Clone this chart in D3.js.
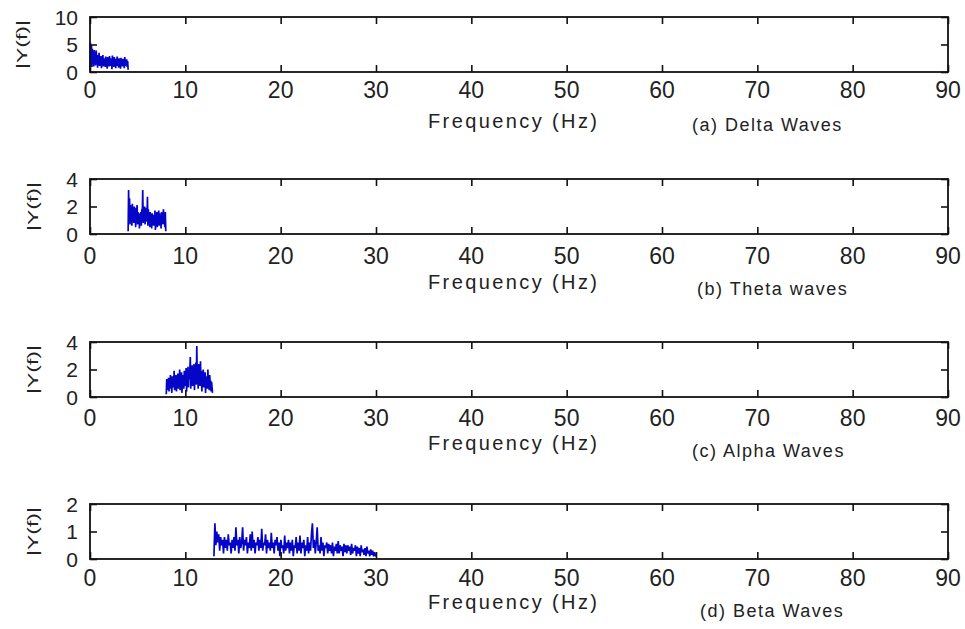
<!DOCTYPE html>
<html>
<head>
<meta charset="utf-8">
<script src="https://cdn.jsdelivr.net/npm/d3@7"></script>
<style>
  body { margin: 0; background: #fff; }
  svg { display: block; font-family: "Liberation Sans", Arial, sans-serif; }
</style>
</head>
<body>
<svg id="chart" width="965" height="629"></svg>
<script>
(function() {

// x axis (Hz), shared by all four panels
const xTicks = [0, 10, 20, 30, 40, 50, 60, 70, 80, 90];

// one entry per panel
const captions = ['(a) Delta Waves', '(b) Theta waves', '(c) Alpha Waves', '(d) Beta Waves'];
const yMaxes = [10, 4, 4, 2];
const yTicks = [[0, 5, 10], [0, 2, 4], [0, 2, 4], [0, 1, 2]];
const bandStart = [0, 4, 8, 13];     // first frequency of each trace
const bandEnd = [4, 7.95, 12.85, 30.05];

// |Y(f)| samples, evenly spaced between bandStart and bandEnd
const delta = [0.3, 5.3, 1.4, 4.9, 0.9, 4.2, 2.1, 3.7, 1.0, 4.0,
  1.8, 3.4, 1.2, 3.9, 2.2, 3.1, 0.8, 3.0, 1.6, 3.5,
  1.1, 2.7, 1.9, 2.9, 0.7, 2.6, 1.5, 3.1, 1.0, 2.5,
  1.6, 2.3, 0.9, 2.8, 1.3, 2.4, 0.6, 2.7, 1.5, 2.2,
  1.0, 2.9, 1.1, 2.5, 1.7, 2.1, 0.5, 3.0, 1.2, 2.3,
  0.9, 2.7, 1.4, 2.0, 0.7, 2.4, 1.1, 2.8, 1.6, 2.1,
  0.8, 2.5, 1.3, 1.9, 0.6, 2.6, 1.2, 2.2, 1.0, 2.4,
  1.5, 1.8, 0.7, 2.7, 1.1, 2.1, 1.4, 2.3, 0.9, 2.0,
  0.4];

const theta = [0.2, 3.2, 1.0, 2.6, 0.7, 2.1, 1.3, 1.9, 0.6, 2.2,
  1.1, 1.8, 0.8, 2.0, 1.4, 1.7, 0.5, 1.9, 1.0, 2.1,
  0.7, 1.6, 1.2, 1.5, 0.4, 1.4, 0.9, 1.6, 0.6, 1.8,
  1.1, 3.2, 0.8, 1.9, 1.3, 2.0, 0.7, 1.7, 1.2, 1.9,
  0.9, 2.7, 0.6, 1.8, 1.0, 1.5, 0.5, 1.6, 0.9, 1.3,
  0.4, 1.5, 1.0, 1.2, 0.6, 1.4, 0.8, 1.7, 0.3, 1.3,
  0.9, 1.6, 0.5, 1.4, 1.1, 1.7, 0.6, 1.5, 0.8, 1.2,
  0.4, 1.6, 1.0, 1.4, 0.7, 1.8, 0.9, 1.3, 0.5, 1.6,
  0.2];

const alpha = [0.2, 1.3, 0.5, 1.1, 0.8, 1.4, 0.4, 1.2, 0.9, 1.6,
  0.6, 1.3, 0.3, 1.5, 1.0, 1.2, 0.7, 1.9, 0.5, 1.4,
  1.1, 1.6, 0.4, 1.3, 0.8, 1.7, 0.6, 1.5, 1.0, 2.0,
  0.5, 1.4, 0.9, 1.8, 0.3, 1.6, 1.2, 1.5, 0.6, 1.9,
  0.8, 1.7, 1.1, 2.1, 0.4, 1.6, 1.0, 2.2, 0.7, 1.8,
  1.3, 2.0, 2.9, 0.6, 1.9, 1.2, 2.3, 0.8, 2.1, 1.4,
  2.4, 0.5, 2.0, 1.1, 2.5, 0.9, 3.7, 1.3, 2.2, 0.6,
  2.4, 1.5, 2.0, 0.8, 2.6, 1.0, 1.9, 0.4, 1.7, 1.2,
  2.0, 0.7, 1.6, 0.9, 1.8, 0.3, 1.5, 1.1, 1.4, 0.6,
  2.0, 0.8, 1.3, 0.5, 1.6, 0.9, 1.2, 0.4, 1.1, 0.7,
  0.3];

const beta = [0.1, 1.3, 0.5, 1.0, 0.6, 0.9, 0.3, 0.8, 0.5, 0.7,
  0.2, 0.8, 0.4, 0.7, 0.3, 0.9, 0.5, 0.6, 0.2, 0.7,
  0.4, 0.8, 0.3, 1.15, 0.5, 0.7, 0.2, 0.8, 0.4, 0.6,
  1.15, 0.3, 0.7, 0.5, 0.8, 0.2, 0.6, 0.4, 0.9, 0.3,
  1.0, 0.4, 0.7, 0.2, 0.6, 0.5, 0.8, 0.3, 0.7, 0.4,
  1.1, 0.3, 0.6, 0.5, 0.9, 0.2, 0.7, 0.4, 0.6, 0.3,
  0.95, 0.4, 0.6, 0.2, 0.7, 0.5, 0.8, 0.3, 0.6, 0.1,
  0.7, 0.4, 0.5, 0.2, 0.85, 0.3, 0.6, 0.4, 0.7, 0.2,
  0.6, 0.3, 0.7, 0.1, 0.5, 0.4, 0.8, 0.2, 0.6, 0.3,
  0.85, 0.2, 0.6, 0.4, 0.7, 0.1, 0.5, 0.3, 0.8, 0.2,
  0.6, 0.3, 0.9, 1.3, 0.4, 0.7, 0.2, 0.6, 1.15, 0.3,
  0.5, 0.2, 0.8, 0.3, 0.6, 0.1, 0.5, 0.4, 0.6, 0.2,
  0.55, 0.3, 0.5, 0.2, 0.6, 0.1, 0.45, 0.3, 0.55, 0.2,
  0.65, 0.2, 0.5, 0.3, 0.45, 0.1, 0.55, 0.25, 0.5, 0.2,
  0.5, 0.3, 0.45, 0.15, 0.55, 0.2, 0.4, 0.3, 0.5, 0.1,
  0.45, 0.2, 0.4, 0.1, 0.5, 0.25, 0.35, 0.15, 0.4, 0.1,
  0.45, 0.2, 0.3, 0.1, 0.35, 0.15, 0.3, 0.1, 0.25, 0.1,
  0.2];

const traces = [delta, theta, alpha, beta];

const layout = {
    left: 90, right: 948, height: 55, tick: 7,
    tops: [17, 179, 342, 504],
    tickLabelDy: [26, 30, 29, 27],
    xLabelDy: [56, 55, 53, 50],
    captionDy: [59, 61, 60, 58],
    captionX: [692, 697, 692, 700],
    yLabelX: [22, 33, 33, 33]
};

const svg = d3.select('#chart');

const x = d3.scaleLinear()
    .domain([0, 90])
    .range([layout.left, layout.right]);

traces.forEach(function(values, p) {
    drawPanel(p, values);
});

function drawPanel(p, values) {
    var top = layout.tops[p],
        bottom = top + layout.height;

    var y = d3.scaleLinear()
        .domain([0, yMaxes[p]])
        .range([bottom, top]);

    var g = svg.append('g').attr('class', 'panel');

    // the trace
    var step = (bandEnd[p] - bandStart[p]) / (values.length - 1);
    var line = d3.line()
        .x(function(d, i) { return x(bandStart[p] + i * step); })
        .y(function(d) { return y(d); });

    g.append('path')
        .datum(values)
        .attr('fill', 'none')
        .attr('stroke', '#0505c8')
        .attr('stroke-width', 1.7)
        .attr('stroke-linejoin', 'bevel')
        .attr('d', line);

    // frame
    g.append('rect')
        .attr('x', layout.left)
        .attr('y', top)
        .attr('width', layout.right - layout.left)
        .attr('height', layout.height)
        .attr('fill', 'none')
        .attr('stroke', '#111')
        .attr('stroke-width', 1.8);

    // inward ticks, bottom + top, left + right (matlab box style)
    var tk = layout.tick;
    var xAxisBottom = d3.axisBottom(x).tickValues(xTicks).tickSize(-tk).tickSizeOuter(0).tickFormat('');
    var xAxisTop = d3.axisTop(x).tickValues(xTicks).tickSize(-tk).tickSizeOuter(0).tickFormat('');
    var yAxisLeft = d3.axisLeft(y).tickValues(yTicks[p]).tickSize(-tk).tickSizeOuter(0).tickFormat('');
    var yAxisRight = d3.axisRight(y).tickValues(yTicks[p]).tickSize(-tk).tickSizeOuter(0).tickFormat('');

    [
        [xAxisBottom, 'translate(0,' + bottom + ')'],
        [xAxisTop, 'translate(0,' + top + ')'],
        [yAxisLeft, 'translate(' + layout.left + ',0)'],
        [yAxisRight, 'translate(' + layout.right + ',0)']
    ].forEach(function(a) {
        var ax = g.append('g')
            .attr('transform', a[1])
            .call(a[0]);
        ax.select('.domain').remove();
        ax.selectAll('line')
            .attr('stroke', '#111')
            .attr('stroke-width', 1.6);
    });

    // tick labels
    g.append('g')
        .selectAll('text')
        .data(xTicks)
      .enter().append('text')
        .attr('x', function(d) { return x(d); })
        .attr('y', bottom + layout.tickLabelDy[p])
        .attr('text-anchor', 'middle')
        .attr('font-size', 23)
        .attr('fill', '#222')
        .text(function(d) { return d; });

    g.append('g')
        .selectAll('text')
        .data(yTicks[p])
      .enter().append('text')
        .attr('x', layout.left - 12)
        .attr('y', function(d) { return y(d); })
        .attr('dy', '0.36em')
        .attr('text-anchor', 'end')
        .attr('font-size', 21)
        .attr('fill', '#222')
        .text(function(d) { return d; });

    // labels
    g.append('text')
        .attr('x', 428)
        .attr('y', bottom + layout.xLabelDy[p])
        .attr('font-size', 20)
        .attr('letter-spacing', 2.4)
        .attr('fill', '#222')
        .text('Frequency (Hz)');

    g.append('text')
        .attr('x', layout.captionX[p])
        .attr('y', bottom + layout.captionDy[p])
        .attr('font-size', 18)
        .attr('letter-spacing', 1.5)
        .attr('fill', '#222')
        .text(captions[p]);

    var cy = (top + bottom) / 2;
    g.append('text')
        .attr('transform', 'translate(' + layout.yLabelX[p] + ',' + cy + ') rotate(-90)')
        .attr('text-anchor', 'middle')
        .attr('dy', '0.35em')
        .attr('font-size', 15)
        .attr('textLength', 49)
        .attr('lengthAdjust', 'spacingAndGlyphs')
        .attr('fill', '#222')
        .text('|Y(f)|');
}

})();
</script>
</body>
</html>
